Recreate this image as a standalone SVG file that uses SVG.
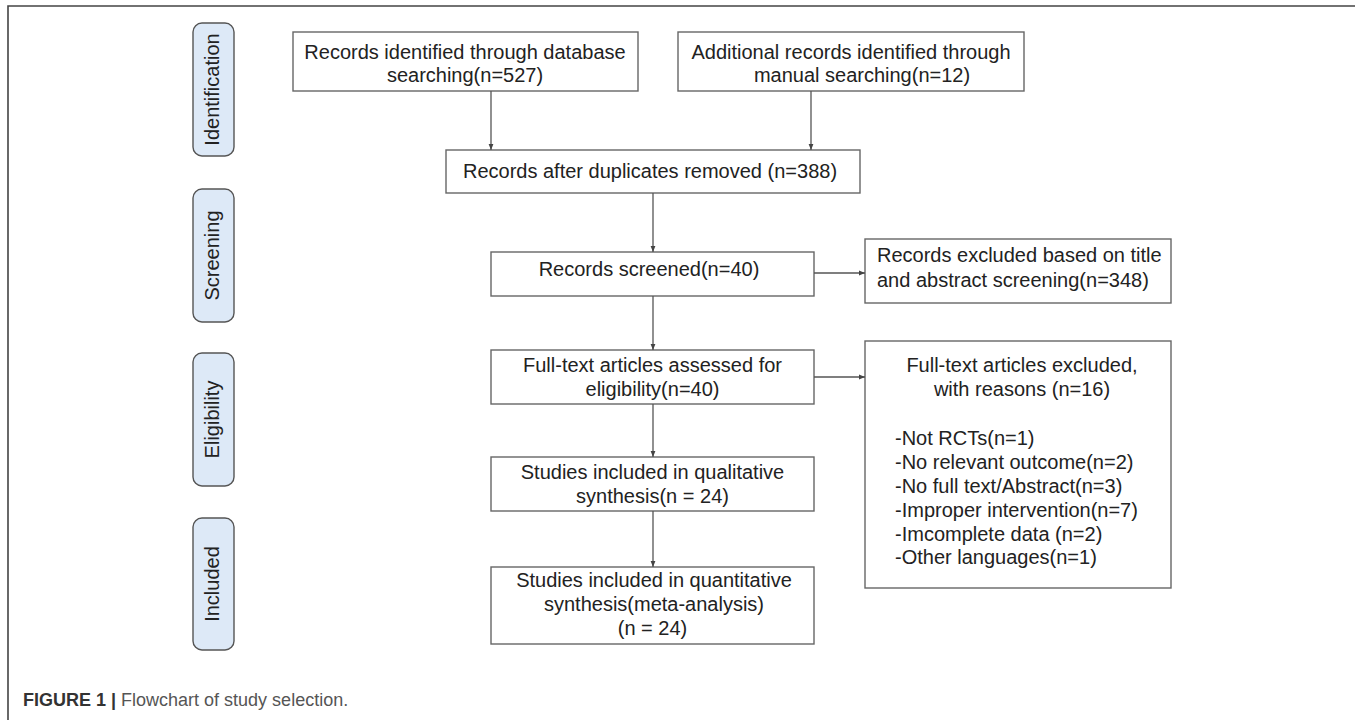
<svg xmlns="http://www.w3.org/2000/svg" width="1355" height="720" viewBox="0 0 1355 720">
<defs>
<marker id="ah" viewBox="0 0 10 10" refX="10" refY="5" markerWidth="6" markerHeight="6" markerUnits="userSpaceOnUse" orient="auto">
<path d="M0,1 L10,5 L0,9 Z" fill="#444"/>
</marker>
<style>
.box{fill:#fff;stroke:#666;stroke-width:1.4}
.pill{fill:#dde9f7;stroke:#555;stroke-width:1.4}
.t{font-family:"Liberation Sans",Arial,sans-serif;font-size:20px;fill:#222}
.c{text-anchor:middle}
.con{stroke:#555;stroke-width:1.3;fill:none;marker-end:url(#ah)}
.frame{stroke:#444;stroke-width:1.6;fill:none}
.cap{font-family:"Liberation Sans",Arial,sans-serif;font-size:18px}
</style>
</defs>
<rect width="1355" height="720" fill="#fff"/>
<path class="frame" d="M8,720 V6 H1355"/>

<g id="phase-identification"><rect class="pill" x="193" y="23" width="41" height="133" rx="9"/><text class="t c" transform="translate(219,89.5) rotate(-90)">Identification</text></g>
<g id="phase-screening"><rect class="pill" x="193" y="189" width="41" height="133" rx="9"/><text class="t c" transform="translate(219,255.5) rotate(-90)">Screening</text></g>
<g id="phase-eligibility"><rect class="pill" x="193" y="353" width="41" height="133" rx="9"/><text class="t c" transform="translate(219,419.5) rotate(-90)">Eligibility</text></g>
<g id="phase-included"><rect class="pill" x="193" y="518" width="41" height="132" rx="9"/><text class="t c" transform="translate(219,584) rotate(-90)">Included</text></g>

<g id="database"><rect class="box" x="293" y="32" width="345" height="59"/>
<text class="t c" x="465" y="59">Records identified through database</text>
<text class="t c" x="465" y="82">searching(n=527)</text></g>

<g id="manual"><rect class="box" x="678" y="32" width="346" height="59"/>
<text class="t c" x="851" y="59">Additional records identified through</text>
<text class="t c" x="862" y="82">manual searching(n=12)</text></g>

<g id="duplicates"><rect class="box" x="446" y="150" width="414" height="43"/>
<text class="t c" x="650" y="178">Records after duplicates removed (n=388)</text></g>

<g id="screened"><rect class="box" x="491" y="252" width="323" height="44"/>
<text class="t c" x="649" y="276">Records screened(n=40)</text></g>

<g id="excluded-title"><rect class="box" x="865" y="239" width="306" height="64"/>
<text class="t" x="877" y="262">Records excluded based on title</text>
<text class="t" x="877" y="287">and abstract screening(n=348)</text></g>

<g id="fulltext"><rect class="box" x="491" y="350" width="323" height="54"/>
<text class="t c" x="652.5" y="372">Full-text articles assessed for</text>
<text class="t c" x="652.5" y="396">eligibility(n=40)</text></g>

<g id="excluded-fulltext"><rect class="box" x="865" y="341" width="306" height="247"/>
<text class="t c" x="1022" y="372">Full-text articles excluded,</text>
<text class="t c" x="1022" y="396">with reasons (n=16)</text>
<text class="t" x="895" y="445">-Not RCTs(n=1)</text>
<text class="t" x="895" y="469">-No relevant outcome(n=2)</text>
<text class="t" x="895" y="492.5">-No full text/Abstract(n=3)</text>
<text class="t" x="895" y="516.5">-Improper intervention(n=7)</text>
<text class="t" x="895" y="540.5">-Imcomplete data (n=2)</text>
<text class="t" x="895" y="564">-Other languages(n=1)</text></g>

<g id="qualitative"><rect class="box" x="491" y="457" width="323" height="54"/>
<text class="t c" x="652.5" y="479">Studies included in qualitative</text>
<text class="t c" x="652.5" y="503">synthesis(n = 24)</text></g>

<g id="quantitative"><rect class="box" x="491" y="567" width="323" height="77"/>
<text class="t c" x="654" y="587">Studies included in quantitative</text>
<text class="t c" x="654" y="611">synthesis(meta-analysis)</text>
<text class="t c" x="652.5" y="635">(n = 24)</text></g>

<g id="connectors">
<line class="con" x1="491" y1="91" x2="491" y2="150"/>
<line class="con" x1="811" y1="91" x2="811" y2="150"/>
<line class="con" x1="653" y1="193" x2="653" y2="252"/>
<line class="con" x1="814" y1="273" x2="865" y2="273"/>
<line class="con" x1="653" y1="296" x2="653" y2="350"/>
<line class="con" x1="814" y1="377" x2="865" y2="377"/>
<line class="con" x1="653" y1="404" x2="653" y2="457"/>
<line class="con" x1="653" y1="511" x2="653" y2="567"/>
</g>

<text class="cap" x="23" y="706"><tspan font-weight="bold" fill="#333">FIGURE 1 |</tspan><tspan fill="#555"> Flowchart of study selection.</tspan></text>
</svg>
